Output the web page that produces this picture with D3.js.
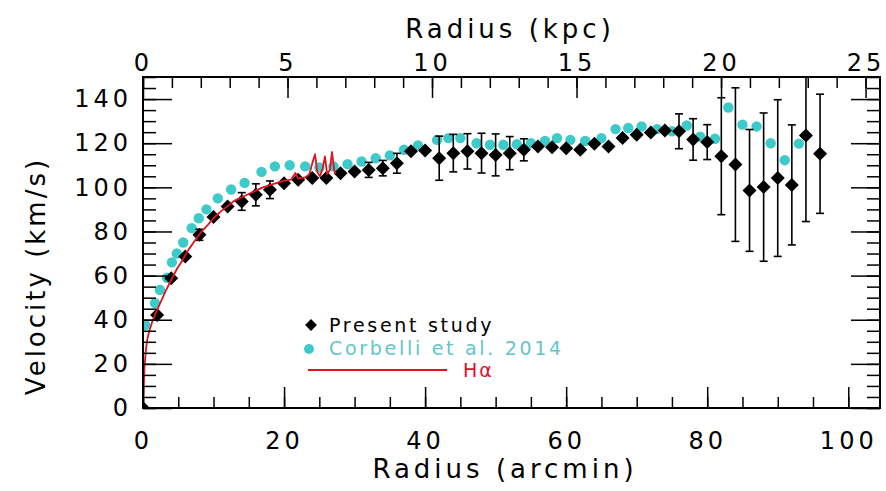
<!DOCTYPE html>
<html>
<head>
<meta charset="utf-8">
<script src="https://cdn.jsdelivr.net/npm/d3@7"></script>
<style>
  body { margin: 0; background: #fff; }
  svg text { font-family: "DejaVu Sans", sans-serif; }
</style>
</head>
<body>
<div id="chart"></div>
<script>
// Present study (black diamonds): radius in arcmin, velocity and error in km/s
const studyR = [0, 2, 4, 6, 8, 10, 12, 14, 16, 18, 20, 22, 24, 26, 28, 30, 32, 34, 36, 38,
  40, 42, 44, 46, 48, 50, 52, 54, 56, 58, 60, 62, 64, 66, 68, 70, 72, 74, 76, 78,
  80, 82, 84, 86, 88, 90, 92, 94, 96];
const studyV = [0, 42.2, 58.8, 68.6, 78.5, 86.5, 91.3, 93.6, 96.6, 98.9, 101.9, 103.4, 104.2, 104.2, 106.4, 107.2, 107.9, 108.7, 110.9, 116.3,
  116.7, 113.2, 115.5, 116.3, 115.5, 114.7, 115.5, 117, 118.5, 118.2, 117.7, 117, 119.7, 118.5, 122.3, 123.8, 124.9, 125.7, 125.4, 121.7,
  120.5, 114.1, 110.3, 98.6, 100.1, 104.2, 101.1, 123.5, 115.2];
const studyErr = [0, 0, 0, 0, 2.5, 0, 0, 4, 5, 4, 0, 0, 0, 0, 0, 0, 3.4, 3.5, 4.5, 0,
  0, 10, 8.5, 8, 9, 9.5, 7.5, 5, 0, 0, 0, 0, 0, 0, 0, 0, 0, 0, 7.9, 9.4,
  7.9, 26.5, 34.8, 27.6, 33.6, 35.5, 27.2, 39, 27];

// Corbelli et al. 2014 (cyan dots)
const corbelliR = [0.3, 1.7, 2.4, 3.4, 4.1, 4.8, 5.7, 6.9, 7.9, 9.0, 10.6, 12.5, 14.4, 16.8, 18.7, 20.8,
  23, 25, 27, 29, 31, 33, 35, 37, 39, 41.7, 43.3, 45, 47.3, 49.2, 51.1, 53, 55, 57, 58.7, 60.6,
  62.7, 65, 67, 68.8, 70.7, 72.9, 75, 77.1, 79, 81.1, 83, 85, 87, 89, 91, 93];
const corbelliV = [37.6, 47.5, 53.5, 59, 66, 70, 75, 81.5, 86, 90, 95, 99, 102, 107, 109.5, 110,
  109.5, 109, 109.5, 110.5, 111.7, 113.2, 114.5, 117, 119, 121.5, 122.3, 122.3, 120, 119.3, 119.3, 119.5, 120, 121, 122.3, 121.5,
  121, 122.3, 126.4, 126.9, 127.6, 126.4, 125.4, 128, 123, 122, 136.2, 128.4, 127.6, 120, 112.3, 119.8];

// H-alpha curve (red line)
const haR = [0, 0.1, 0.2, 0.4, 0.6, 0.9, 1.3, 1.8, 2.5, 3.2, 4, 4.8, 5.6, 6.5, 7.4, 8.3, 9.2, 10,
  11, 12, 13, 14, 15, 16, 17, 18, 19, 20, 21, 21.6, 22, 23, 23.6, 24.1, 24.4, 24.7, 25.1, 25.5,
  25.8, 26.1, 26.5, 26.8, 27.1, 27.3];
const haV = [0, 8, 18, 26, 31, 35, 39, 43, 48, 53, 58, 63, 67, 72, 76, 80, 83, 86,
  89, 91.5, 94, 95.5, 97, 98.5, 100, 101, 102, 103, 103.5, 106.5, 104, 104.5, 106, 112, 115, 107, 105, 109,
  114, 106, 108, 116, 108, 106];

// axes
const arcminTicks = [0, 20, 40, 60, 80, 100];
const arcminMinor = d3.range(0, 105, 5);
const kpcTicks = [0, 5, 10, 15, 20, 25];
const kpcMinor = d3.range(0, 26, 1);
const velTicks = [0, 20, 40, 60, 80, 100, 120, 140];
const velMinor = d3.range(0, 151, 5);

class RotationCurveChart {
  margin = { top: 77, right: 6, bottom: 83, left: 143 };

  constructor(selector, width = 886, height = 491) {
    this.selector = selector;
    this.fullWidth = width;
    this.fullHeight = height;
    this.width = width - this.margin.left - this.margin.right;
    this.height = height - this.margin.top - this.margin.bottom;
  }

  initialize() {
    this.root = d3.select(this.selector).append("svg")
      .attr("width", this.fullWidth)
      .attr("height", this.fullHeight);
    this.svg = this.root.append("g")
      .attr("transform", `translate(${this.margin.left},${this.margin.top})`);

    this.xScale = d3.scaleLinear().domain([0, 104.5]).range([0, this.width]);
    this.kpcScale = d3.scaleLinear().domain([0, 25.5]).range([0, this.width]);
    this.yScale = d3.scaleLinear().domain([0, 150]).range([this.height, 0]);
  }

  styleAxis(g, fontSize = 24) {
    g.select(".domain").remove();
    g.attr("font-family", null).attr("font-size", null);
    g.selectAll("line").attr("stroke", "#000").attr("stroke-width", 1.5);
    g.selectAll("text")
      .attr("fill", "#000")
      .style("font-size", fontSize + "px")
      .style("letter-spacing", "4px");
  }

  draw() {
    const x = this.xScale, y = this.yScale;

    // clip for data
    this.svg.append("clipPath").attr("id", "plot-clip")
      .append("rect").attr("width", this.width).attr("height", this.height);
    const plot = this.svg.append("g").attr("clip-path", "url(#plot-clip)");

    // cyan dots
    const corbelli = corbelliR.map((r, i) => ({ r, v: corbelliV[i] }));
    plot.selectAll(".corbelli").data(corbelli).enter()
      .append("circle")
      .attr("class", "corbelli")
      .attr("cx", d => x(d.r))
      .attr("cy", d => y(d.v))
      .attr("r", 5.2)
      .attr("fill", "#3fcaca");

    // error bars
    const study = studyR.map((r, i) => ({ r, v: studyV[i], e: studyErr[i] }));
    const bars = plot.selectAll(".err").data(study.filter(d => d.e > 0)).enter()
      .append("g").attr("class", "err")
      .attr("stroke", "#000").attr("stroke-width", 1.6);
    bars.append("line")
      .attr("x1", d => x(d.r)).attr("x2", d => x(d.r))
      .attr("y1", d => y(d.v - d.e)).attr("y2", d => y(d.v + d.e));
    bars.append("line")
      .attr("x1", d => x(d.r) - 4).attr("x2", d => x(d.r) + 4)
      .attr("y1", d => y(d.v - d.e)).attr("y2", d => y(d.v - d.e));
    bars.append("line")
      .attr("x1", d => x(d.r) - 4).attr("x2", d => x(d.r) + 4)
      .attr("y1", d => y(d.v + d.e)).attr("y2", d => y(d.v + d.e));

    // diamonds
    const diamond = d3.symbol(d3.symbolSquare, 98);
    plot.selectAll(".study").data(study).enter()
      .append("path")
      .attr("class", "study")
      .attr("d", diamond)
      .attr("transform", d => `translate(${x(d.r)},${y(d.v)}) rotate(45)`)
      .attr("fill", "#000");

    // H-alpha line
    const haLine = d3.line().x(d => x(d.r)).y(d => y(d.v));
    plot.append("path")
      .datum(haR.map((r, i) => ({ r, v: haV[i] })))
      .attr("fill", "none")
      .attr("stroke", "#e3121c")
      .attr("stroke-width", 1.8)
      .attr("stroke-linejoin", "round")
      .attr("d", haLine);

    // axes: bottom (arcmin)
    const bottom = this.svg.append("g").attr("transform", `translate(0,${this.height})`);
    bottom.append("g").call(d3.axisBottom(x).tickValues(arcminMinor).tickSize(-11).tickFormat(""))
      .call(g => this.styleAxis(g));
    bottom.append("g").call(d3.axisBottom(x).tickValues(arcminTicks).tickSize(-21).tickPadding(24))
      .call(g => this.styleAxis(g));

    // top (kpc)
    const top = this.svg.append("g");
    top.append("g").call(d3.axisTop(this.kpcScale).tickValues(kpcMinor).tickSize(-11).tickFormat(""))
      .call(g => this.styleAxis(g));
    top.append("g").call(d3.axisTop(this.kpcScale).tickValues(kpcTicks).tickSize(-21).tickPadding(6))
      .call(g => this.styleAxis(g));

    // left (velocity)
    const left = this.svg.append("g");
    left.append("g").call(d3.axisLeft(y).tickValues(velMinor).tickSize(-13).tickFormat(""))
      .call(g => this.styleAxis(g));
    left.append("g").call(d3.axisLeft(y).tickValues(velTicks).tickSize(-29).tickPadding(11))
      .call(g => this.styleAxis(g));

    // right (mirror)
    const right = this.svg.append("g").attr("transform", `translate(${this.width},0)`);
    right.append("g").call(d3.axisRight(y).tickValues(velMinor).tickSize(-13).tickFormat(""))
      .call(g => this.styleAxis(g));
    right.append("g").call(d3.axisRight(y).tickValues(velTicks).tickSize(-29).tickFormat(""))
      .call(g => this.styleAxis(g));

    // frame
    this.svg.append("rect")
      .attr("width", this.width).attr("height", this.height)
      .attr("fill", "none").attr("stroke", "#000").attr("stroke-width", 2);

    // axis titles
    this.root.append("text")
      .attr("x", 510).attr("y", 38)
      .attr("text-anchor", "middle")
      .style("font-size", "26px").style("letter-spacing", "4px")
      .text("Radius (kpc)");
    this.root.append("text")
      .attr("x", 505).attr("y", 478)
      .attr("text-anchor", "middle")
      .style("font-size", "26px").style("letter-spacing", "4px")
      .text("Radius (arcmin)");
    this.root.append("text")
      .attr("transform", "translate(45,276) rotate(-90)")
      .attr("text-anchor", "middle")
      .style("font-size", "26px").style("letter-spacing", "3px")
      .text("Velocity (km/s)");

    // legend
    const legend = this.root.append("g");
    legend.append("path")
      .attr("d", d3.symbol(d3.symbolSquare, 70))
      .attr("transform", "translate(311,325) rotate(45)")
      .attr("fill", "#000");
    legend.append("text")
      .attr("x", 329).attr("y", 332)
      .style("font-size", "19px").style("letter-spacing", "2.7px")
      .attr("fill", "#000")
      .text("Present study");
    legend.append("circle")
      .attr("cx", 309).attr("cy", 349).attr("r", 5)
      .attr("fill", "#3fcaca");
    legend.append("text")
      .attr("x", 329).attr("y", 355)
      .style("font-size", "19px").style("letter-spacing", "2.7px")
      .attr("fill", "#62c6c8")
      .text("Corbelli et al. 2014");
    legend.append("line")
      .attr("x1", 308).attr("x2", 447).attr("y1", 370).attr("y2", 370)
      .attr("stroke", "#e3121c").attr("stroke-width", 1.8);
    legend.append("text")
      .attr("x", 463).attr("y", 377)
      .style("font-size", "19px").style("letter-spacing", "2px")
      .attr("fill", "#d8122a")
      .text("Hα");
  }
}

const chart = new RotationCurveChart("#chart");
chart.initialize();
chart.draw();
</script>
</body>
</html>
